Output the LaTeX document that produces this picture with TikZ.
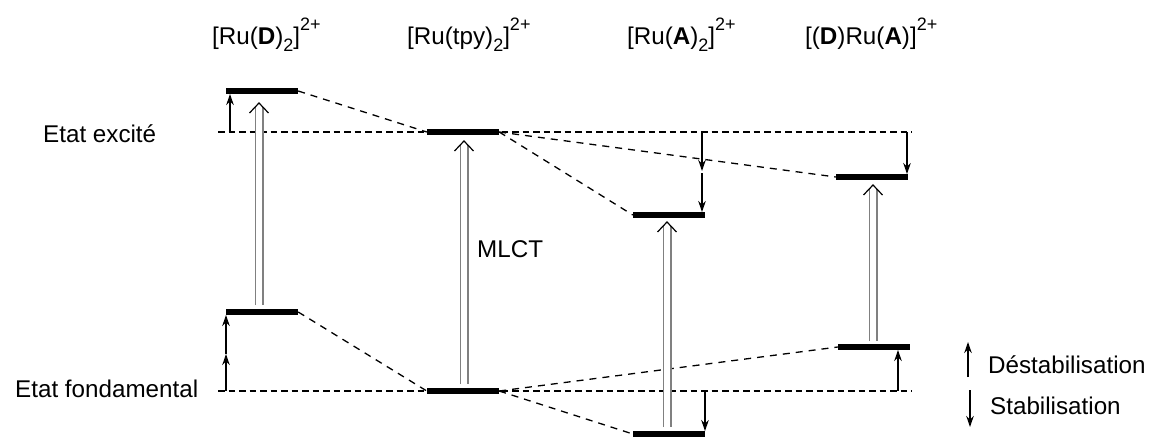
\documentclass[tikz,border=0pt]{standalone}
\usepackage{fontspec}
\setmainfont{Liberation Sans}
\usetikzlibrary{arrows.meta}
\newcommand\chsub[1]{\raisebox{-0.3em}{\fontsize{18}{18}\selectfont #1}}
\newcommand\chsup[1]{\raisebox{0.55em}{\fontsize{18}{18}\selectfont #1}}
\begin{document}
\begin{tikzpicture}[x=1pt,y=-1pt,
  font=\fontsize{24.2}{28}\selectfont,
  bar/.style={fill=black,draw=none,inner sep=0pt,minimum width=72pt,minimum height=5.5pt},
  refline/.style={line width=1.8pt,dash pattern=on 6.5pt off 4pt},
  link/.style={line width=1.3pt,dash pattern=on 7pt off 6pt},
  shiftarrow/.style={line width=1.4pt,-{Stealth[length=11pt,width=7.5pt]}},
  mlct/.style={draw=gray,line width=1.2pt,double=white,double distance=6.6pt},
  chev/.style={line width=1.2pt},
  lbl/.style={anchor=base west,inner sep=0pt}]
\useasboundingbox (0,0) rectangle (1149,437);

% titles
\node[lbl] (t1) at (212,44) {[Ru(\textbf{D})\chsub{2}]\chsup{2+}};
\node[lbl] (t2) at (407,44) {[Ru(tpy)\chsub{2}]\chsup{2+}};
\node[lbl] (t3) at (627,44) {[Ru(\textbf{A})\chsub{2}]\chsup{2+}};
\node[lbl] (t4) at (805,44) {[(\textbf{D})Ru(\textbf{A})]\chsup{2+}};

% side labels
\node[lbl] (lex) at (43,142) {Etat excité};
\node[lbl] (lfo) at (15,397) {Etat fondamental};
\node[lbl] (lm) at (477,257) {MLCT};
\node[lbl] (ld) at (988,373) {Déstabilisation};
\node[lbl] (ls) at (990,414) {Stabilisation};

% reference lines
\coordinate (exL) at (218,132);
\coordinate (exR) at (912,132);
\coordinate (gL) at (218,391);
\coordinate (gR) at (912,391);
\draw[refline] (exL) -- (exR);
\draw[refline] (gL) -- (gR);

% levels
\node[bar] (De) at (262,91) {};
\node[bar] (Te) at (463,132) {};
\node[bar] (Ae) at (669,215) {};
\node[bar] (Xe) at (872,177) {};
\node[bar] (Dg) at (262,312) {};
\node[bar] (Tg) at (463,391) {};
\node[bar] (Ag) at (669,434) {};
\node[bar] (Xg) at (874,347) {};

% correlation lines
\draw[link] (De.east) -- (Te.west);
\draw[link] (Te.east) -- (Ae.west);
\draw[link] (Te.east) -- (Xe.west);
\draw[link] (Dg.east) -- (Tg.west);
\draw[link] (Tg.east) -- (Xg.west);
\draw[link] (Tg.east) -- (Ag.west);

% MLCT transitions
\coordinate (m1s) at (259,305); \coordinate (m1t) at (259,103);
\coordinate (m2s) at (464,384); \coordinate (m2t) at (464,141);
\coordinate (m3s) at (667,427); \coordinate (m3t) at (667,222);
\coordinate (m4s) at (873,341); \coordinate (m4t) at (873,185);
\foreach \m in {m1,m2,m3,m4}{
  \draw[mlct] (\m s) -- ([yshift=-4pt]\m t);
  \draw[chev] (\m t) ++(-9.5,10) -- (\m t) -- ++(9.5,10);
}

% shift arrows
\coordinate (a1) at (230,132);
\draw[shiftarrow] (a1) -- (a1 |- De.south);
\coordinate (a2) at (226,391); \coordinate (a2m) at (226,354);
\draw[shiftarrow] (a2) -- (a2m);
\draw[shiftarrow] (a2m) -- (a2m |- Dg.south);
\coordinate (a3) at (702,132); \coordinate (a3m) at (702,171); \coordinate (a3n) at (702,173);
\draw[shiftarrow] (a3) -- (a3m);
\draw[shiftarrow] (a3n) -- (a3n |- Ae.north);
\coordinate (a4) at (907,132);
\draw[shiftarrow] (a4) -- (a4 |- Xe.north);
\coordinate (a5) at (898,391);
\draw[shiftarrow] (a5) -- (a5 |- Xg.south);
\coordinate (a6) at (705,391);
\draw[shiftarrow] (a6) -- (a6 |- Ag.north);

% legend arrows
\coordinate (l1a) at (968,377); \coordinate (l1b) at (968,342);
\coordinate (l2a) at (970,390); \coordinate (l2b) at (970,427);
\draw[shiftarrow] (l1a) -- (l1b);
\draw[shiftarrow] (l2a) -- (l2b);
\end{tikzpicture}
\end{document}
